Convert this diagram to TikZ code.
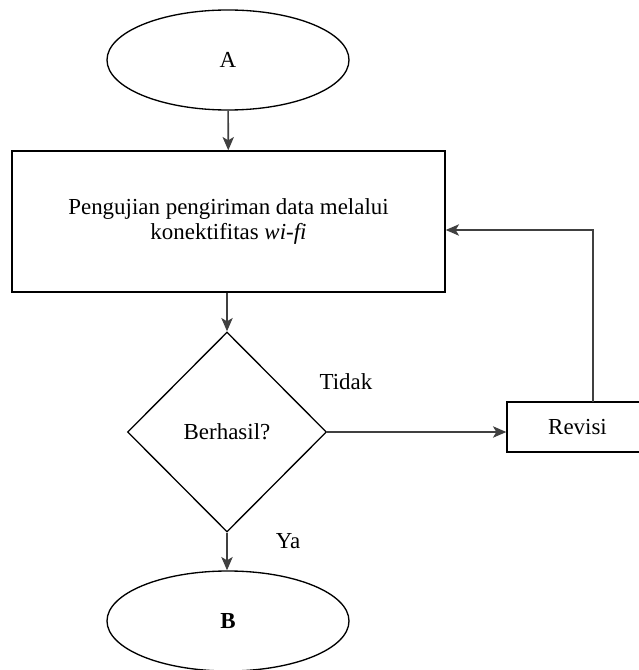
\documentclass[tikz,border=0pt]{standalone}
\usepackage{fontspec}
\setmainfont{Liberation Serif}
\usetikzlibrary{shapes.geometric,arrows.meta}
\begin{document}
\begin{tikzpicture}[x=0.75pt,y=-0.75pt,
  every node/.style={font=\fontsize{17.2}{19}\selectfont},
  term/.style={draw=black,line width=1pt,ellipse,inner sep=0pt,minimum width=181.5pt,minimum height=75pt},
  procbox/.style={draw=black,line width=1pt,rectangle,inner sep=0pt,minimum width=324.75pt,minimum height=105.75pt,align=center},
  decide/.style={draw=black,line width=1pt,diamond,inner sep=0pt,minimum width=149.25pt,minimum height=150pt},
  revbox/.style={draw=black,line width=1pt,rectangle,inner sep=0pt,minimum width=105.75pt,minimum height=37.5pt},
  conn/.style={draw=black!75,line width=1.2pt,-{Stealth[length=10pt,width=8.5pt,inset=2.5pt]}},
  lbl/.style={inner sep=0pt}
]
\useasboundingbox (0,0) rectangle (638,670);
\node[term] (a) at (228,60) {A};
\node[procbox] (p) at (228.5,221.5) {Pengujian pengiriman data melalui\\konektifitas \textit{wi-fi}};
\node[decide] (d) at (227,432) {Berhasil?};
\node[revbox] (r) at (577.5,427) {Revisi};
\node[term] (b) at (228,621) {\textbf{B}};
\node[lbl] (t) at (346,382) {Tidak};
\node[lbl] (y) at (288,541) {Ya};
\coordinate (rt) at (593,402);
\coordinate (bend) at (593,230);
\draw[conn] (a) -- (p);
\draw[conn] (p.south -| d.north) -- (d.north);
\draw[conn] (d.east) -- (d.east -| r.west);
\draw[conn] (rt) -- (bend) -- (bend -| p.east);
\draw[conn] (d.south) -- (b.north -| d.south);
\end{tikzpicture}
\end{document}
